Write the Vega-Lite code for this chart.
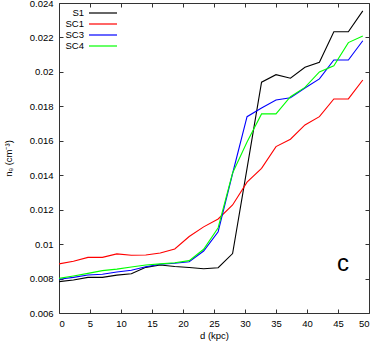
{
  "$schema": "https://vega.github.io/schema/vega-lite/v6.json",
  "width": 310,
  "height": 310,
  "autosize": {"type": "none"},
  "padding": {"left": 59, "top": 3, "right": 5, "bottom": 30},
  "background": "white",
  "config": {
    "view": {"stroke": "#333333", "strokeWidth": 1},
    "font": "Liberation Sans",
    "axis": {
      "grid": false,
      "domain": false,
      "tickSize": -4,
      "tickColor": "#333333",
      "tickWidth": 1,
      "labelFont": "Liberation Sans",
      "labelFontSize": 9.5,
      "labelColor": "#000000",
      "labelPadding": 10,
      "titleFont": "Liberation Sans",
      "titleFontSize": 9.5,
      "titleFontWeight": "normal",
      "titleColor": "#000000"
    },
    "legend": {
      "labelFont": "Liberation Sans",
      "labelFontSize": 9.5,
      "labelColor": "#000000"
    }
  },
  "data": {
    "values": [
      {"d": 0, "S1": 0.00782, "SC1": 0.00885, "SC3": 0.00796, "SC4": 0.00801},
      {"d": 2.33, "S1": 0.00792, "SC1": 0.0090, "SC3": 0.00807, "SC4": 0.00815},
      {"d": 4.67, "S1": 0.00807, "SC1": 0.00923, "SC3": 0.00821, "SC4": 0.0083},
      {"d": 7, "S1": 0.00807, "SC1": 0.00923, "SC3": 0.00825, "SC4": 0.00846},
      {"d": 9.33, "S1": 0.0082, "SC1": 0.00943, "SC3": 0.00838, "SC4": 0.00855},
      {"d": 11.67, "S1": 0.00828, "SC1": 0.00935, "SC3": 0.00848, "SC4": 0.00867},
      {"d": 14, "S1": 0.00865, "SC1": 0.00937, "SC3": 0.00869, "SC4": 0.00879},
      {"d": 16.33, "S1": 0.00879, "SC1": 0.00948, "SC3": 0.00883, "SC4": 0.00885},
      {"d": 18.67, "S1": 0.0087, "SC1": 0.00972, "SC3": 0.00889, "SC4": 0.00892},
      {"d": 21, "S1": 0.00864, "SC1": 0.01044, "SC3": 0.00898, "SC4": 0.00904},
      {"d": 23.33, "S1": 0.00857, "SC1": 0.0110, "SC3": 0.0096, "SC4": 0.0097},
      {"d": 25.67, "S1": 0.00863, "SC1": 0.01146, "SC3": 0.01072, "SC4": 0.01095},
      {"d": 28, "S1": 0.00945, "SC1": 0.01227, "SC3": 0.0141, "SC4": 0.01413},
      {"d": 30.33, "S1": 0.0144, "SC1": 0.0136, "SC3": 0.0174, "SC4": 0.01593},
      {"d": 32.67, "S1": 0.0194, "SC1": 0.0144, "SC3": 0.0179, "SC4": 0.01756},
      {"d": 35, "S1": 0.01984, "SC1": 0.01566, "SC3": 0.01837, "SC4": 0.01756},
      {"d": 37.33, "S1": 0.01963, "SC1": 0.01609, "SC3": 0.0185, "SC4": 0.01856},
      {"d": 39.67, "S1": 0.02027, "SC1": 0.01692, "SC3": 0.01906, "SC4": 0.0191},
      {"d": 42, "S1": 0.02056, "SC1": 0.0174, "SC3": 0.01959, "SC4": 0.0200},
      {"d": 44.33, "S1": 0.02233, "SC1": 0.01843, "SC3": 0.02069, "SC4": 0.02036},
      {"d": 46.67, "S1": 0.02233, "SC1": 0.01843, "SC3": 0.02069, "SC4": 0.0217},
      {"d": 49, "S1": 0.02354, "SC1": 0.01953, "SC3": 0.02181, "SC4": 0.02208}
    ]
  },
  "transform": [
    {"fold": ["S1", "SC1", "SC3", "SC4"], "as": ["series", "ne"]}
  ],
  "layer": [
    {
      "mark": {"type": "line", "strokeWidth": 1.1, "clip": true},
      "encoding": {
        "x": {
          "field": "d", "type": "quantitative",
          "scale": {"domain": [0, 50], "nice": false, "zero": false},
          "axis": {"orient": "bottom", "values": [0, 5, 10, 15, 20, 25, 30, 35, 40, 45, 50], "title": "d (kpc)", "titlePadding": 3, "labelPadding": 9}
        },
        "y": {
          "field": "ne", "type": "quantitative",
          "scale": {"domain": [0.006, 0.024], "nice": false, "zero": false},
          "axis": {"orient": "left", "values": [0.006, 0.008, 0.01, 0.012, 0.014, 0.016, 0.018, 0.02, 0.022, 0.024], "format": "~g", "title": "nₑ (cm⁻³)", "titlePadding": 16}
        },
        "color": {
          "field": "series", "type": "nominal",
          "scale": {"domain": ["S1", "SC1", "SC3", "SC4"], "range": ["#000000", "#ff0000", "#0000ff", "#00ff00"]},
          "legend": {
            "title": null,
            "orient": "none",
            "legendX": 0,
            "legendY": 4,
            "padding": 0,
            "symbolType": "M-2.8,0H2.8",
            "symbolSize": 100,
            "symbolStrokeWidth": 1.2,
            "labelAlign": "right",
            "labelOffset": -25,
            "symbolOffset": 38,
            "rowPadding": 0
          }
        }
      }
    },
    {
      "mark": {"type": "point", "opacity": 0},
      "encoding": {
        "x": {"field": "d", "type": "quantitative", "axis": {"orient": "top", "values": [0, 5, 10, 15, 20, 25, 30, 35, 40, 45, 50], "labels": false, "title": null}},
        "y": {"field": "ne", "type": "quantitative", "axis": {"orient": "right", "values": [0.006, 0.008, 0.01, 0.012, 0.014, 0.016, 0.018, 0.02, 0.022, 0.024], "labels": false, "title": null}}
      }
    },
    {
      "data": {"values": [{"d": 45.8, "ne": 0.00882, "label": "c"}]},
      "mark": {"type": "text", "fontSize": 24, "font": "Liberation Sans", "align": "center", "baseline": "middle", "color": "#000000"},
      "encoding": {
        "x": {"field": "d", "type": "quantitative", "axis": null},
        "y": {"field": "ne", "type": "quantitative", "axis": null},
        "text": {"field": "label"}
      }
    }
  ],
  "resolve": {"axis": {"x": "independent", "y": "independent"}}
}
